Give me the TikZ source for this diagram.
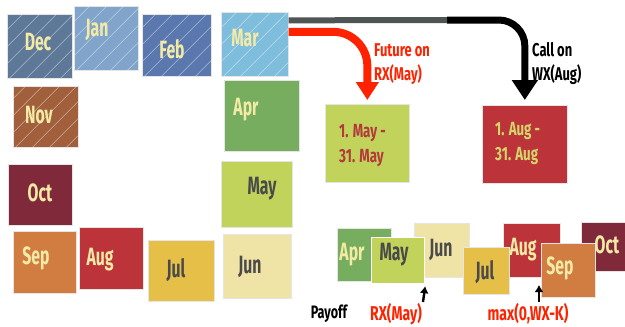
\documentclass[tikz,border=0pt]{standalone}
\usepackage{fontspec}
\newfontfamily\cf[FakeStretch=0.63]{Fira Sans}
\newfontfamily\cg[FakeStretch=0.7]{Fira Sans}
\usetikzlibrary{arrows.meta,calc}
\definecolor{decblue}{HTML}{5E7898}
\definecolor{janblue}{HTML}{80A4CA}
\definecolor{febblue}{HTML}{5A78AD}
\definecolor{novbrown}{HTML}{A15F3C}
\definecolor{marblue}{HTML}{7FBDDC}
\definecolor{aprgreen}{HTML}{77AD5F}
\definecolor{maygreen}{HTML}{C2D35B}
\definecolor{junyellow}{HTML}{F0E3A6}
\definecolor{octred}{HTML}{80293A}
\definecolor{sepor}{HTML}{D17D41}
\definecolor{augred}{HTML}{BC3339}
\definecolor{julyel}{HTML}{E6BF48}
\definecolor{txtlight}{HTML}{F3EBA5}
\definecolor{txtdark}{HTML}{4A4A48}
\definecolor{arrred}{HTML}{FF2200}
\definecolor{barGray}{HTML}{4F5454}
\definecolor{rxtxt}{HTML}{B23A3C}
\definecolor{wxtxt}{HTML}{D4D66B}
\tikzset{
  mbox/.style={draw=white!90!black, line width=0.7pt, inner sep=0pt, anchor=north west},
  hatch/.style={path picture={\foreach \k in {0,...,10}{\draw[white,opacity=0.5,line width=0.6pt] ([xshift=\k*17pt-100pt]path picture bounding box.south west) -- ++(120pt,120pt);}}},
  mt/.style={font=\cf\bfseries\fontsize{25}{25}\selectfont, inner sep=0pt},
  lt/.style={mt, text=txtlight},
  dt/.style={mt, text=txtdark},
  lbl/.style={font=\cg\bfseries\fontsize{18.5}{24}\selectfont, inner sep=0pt, align=left, anchor=west},
  boxt/.style={font=\cg\bfseries\fontsize{19}{25}\selectfont, inner sep=0pt, align=left, anchor=west},
  redarr/.style={draw=arrred, line width=8pt, rounded corners=34pt, -{Triangle[width=22pt,length=18pt]}},
  blkarr/.style={draw=black, line width=7pt, rounded corners=26pt, -{Triangle[width=25pt,length=20pt]}},
  graybar/.style={draw=barGray, line width=6pt},
  uparr/.style={draw=black, line width=2.4pt, -{Latex[length=7pt,width=9pt]}}
}
\begin{document}
\begin{tikzpicture}[x=1pt,y=-1pt]
\useasboundingbox (0,0) rectangle (625,327);
% circle of months
\node[mbox, hatch, fill=decblue, minimum width=65pt, minimum height=64pt] (dec) at (7,14) {};
\node[lt] (dect) at (38,42) {Dec};
\node[mbox, hatch, fill=janblue, minimum width=64pt, minimum height=64pt] (jan) at (74,6) {};
\node[lt] (jant) at (97,30) {Jan};
\node[mbox, hatch, fill=febblue, minimum width=69pt, minimum height=62pt] (feb) at (142,14) {};
\node[lt] (febt) at (172,49) {Feb};
\node[mbox, hatch, fill=novbrown, minimum width=65pt, minimum height=61pt] (nov) at (13,86) {};
\node[lt] (novt) at (39,115) {Nov};
\node[mbox, hatch, fill=marblue, minimum width=67pt, minimum height=64pt] (mar) at (221,12) {};
\node[lt] (mart) at (245,38) {Mar};
\node[mbox, fill=aprgreen, minimum width=75pt, minimum height=71pt] (apr) at (224,80) {};
\node[lt] (aprt) at (246,110) {Apr};
\node[mbox, fill=maygreen, minimum width=71pt, minimum height=66pt] (may) at (221,161) {};
\node[dt] (mayt) at (262,189) {May};
\node[mbox, fill=junyellow, minimum width=68pt, minimum height=64pt] (jun) at (223,234) {};
\node[dt] (junt) at (250,267) {Jun};
\node[mbox, fill=octred, minimum width=64pt, minimum height=61pt] (oct) at (8,164) {};
\node[lt] (octt) at (40,193) {Oct};
\node[mbox, fill=sepor, minimum width=63pt, minimum height=62pt] (sep) at (13,231) {};
\node[lt] (sept) at (36,258) {Sep};
\node[mbox, fill=augred, minimum width=64pt, minimum height=62pt] (aug) at (79,227) {};
\node[lt] (augt) at (100,260) {Aug};
\node[mbox, fill=julyel, minimum width=66pt, minimum height=61pt] (jul) at (148,240) {};
\node[dt] (jult) at (176,270) {Jul};
% delivery boxes
\node[mbox, fill=maygreen, minimum width=84pt, minimum height=78pt] (rxbox) at (325,104) {};
\node[boxt, text=rxtxt] (rxboxt) at (339,146) {1. May -\\31. May};
\node[mbox, fill=augred, minimum width=85pt, minimum height=78pt] (wxbox) at (482,105) {};
\node[boxt, text=wxtxt] (wxboxt) at (495,143.5) {1. Aug -\\31. Aug};
% arrows
\coordinate (bk) at (447,20);
\draw[blkarr] (bk) -| ([yshift=5pt]wxbox.north);
\draw[graybar] ([yshift=24pt]mar.east) -- (bk);
\draw[redarr] ([yshift=12.5pt]mar.east) -| ([yshift=4pt]rxbox.north);
\node[lbl, text=arrred] (futlbl) at (374,64) {Future on\\RX(May)};
\node[lbl, text=black] (calllbl) at (532,63.5) {Call on\\WX(Aug)};
% bottom strip
\node[mbox, fill=aprgreen, minimum width=54pt, minimum height=53pt] (apr2) at (337,228) {};
\node[lt] (apr2t) at (352,255) {Apr};
\node[mbox, fill=junyellow, minimum width=55pt, minimum height=54pt] (jun2) at (414,223) {};
\node[dt] (jun2t) at (441,250) {Jun};
\node[mbox, fill=maygreen, draw=white, line width=1.2pt, minimum width=53pt, minimum height=46pt] (may2) at (371,237) {};
\node[dt] (may2t) at (394,255) {May};
\node[mbox, fill=augred, minimum width=57pt, minimum height=54pt] (aug2) at (503,223) {};
\node[lt] (aug2t) at (523,250) {Aug};
\node[mbox, fill=julyel, minimum width=46pt, minimum height=47pt] (jul2) at (463,247) {};
\node[dt] (jul2t) at (485,272) {Jul};
\node[mbox, fill=octred, minimum width=46pt, minimum height=49pt] (oct2) at (581,222) {};
\node[lt] (oct2t) at (607,245) {Oct};
\node[mbox, fill=sepor, minimum width=54pt, minimum height=54pt] (sep2) at (541,243) {};
\node[lt] (sep2t) at (560,268) {Sep};
% payoff arrows and labels
\coordinate (a1) at (423,302);
\coordinate (a2) at (539,302);
\coordinate (a2t) at (539,285);
\draw[uparr] (a1) -- ([yshift=-2pt]may2.south east);
\draw[uparr] (a2) -- (a2t);
\node[lbl, font=\cg\bfseries\fontsize{18}{20}\selectfont, text=black, anchor=center] (payoff) at (329,314) {Payoff};
\node[lbl, font=\cg\bfseries\fontsize{20}{22}\selectfont, text=arrred, anchor=center] (rxpay) at (396,314) {RX(May)};
\node[lbl, font=\cg\bfseries\fontsize{20}{22}\selectfont, text=arrred, anchor=center] (wxpay) at (528,314) {max(0,WX-K)};
\end{tikzpicture}
\end{document}
